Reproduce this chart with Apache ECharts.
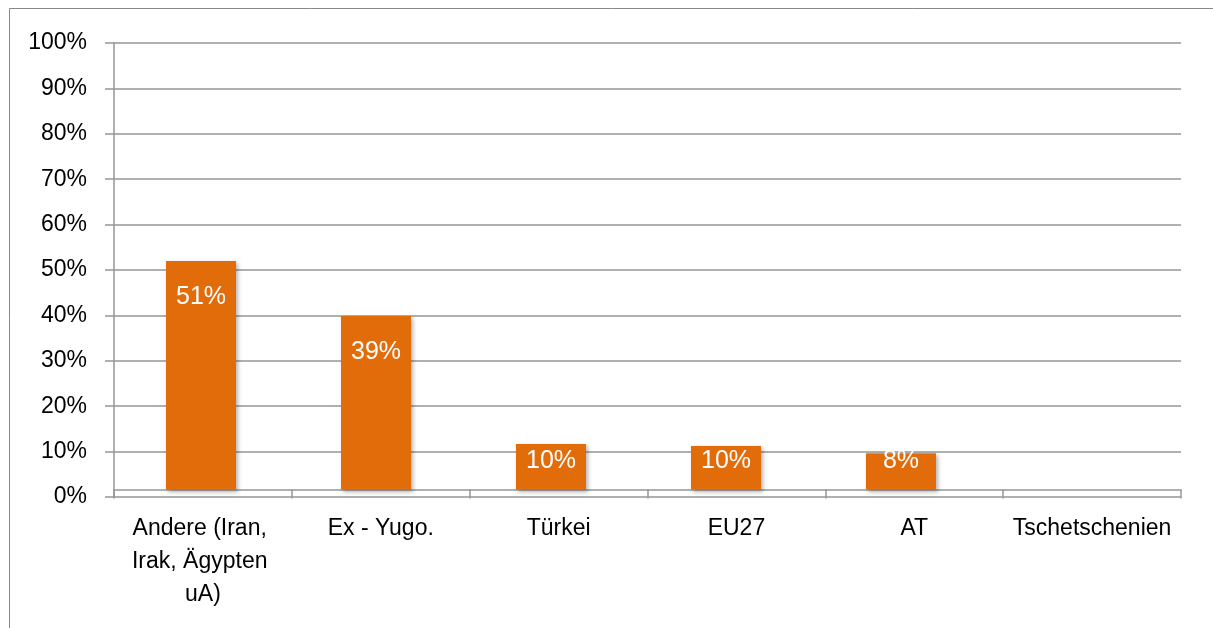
<!DOCTYPE html>
<html>
<head>
<meta charset="utf-8">
<script src="https://cdn.jsdelivr.net/npm/echarts@6/dist/echarts.min.js"></script>
<style>
html, body { margin: 0; padding: 0; background: #fff; }
#main { width: 1213px; height: 628px; }
</style>
</head>
<body>
<div id="main"></div>
<script>
var categories = ['Andere (Iran, Irak, Ägypten uA)', 'Ex - Yugo.', 'Türkei', 'EU27', 'AT', 'Tschetschenien'];
var values = [50.3, 38.2, 10.0, 9.6, 8.0, 0];
var valueLabels = ['51%', '39%', '10%', '10%', '8%', ''];
var yTicks = [0, 10, 20, 30, 40, 50, 60, 70, 80, 90, 100];

var font = "'Liberation Sans', Arial, sans-serif";
var gray = '#969696';

// the bars stand on the category axis line, which sits slightly above the 0% tick
var barAxis = { type: 'value', min: -1.65, max: 98.3, show: false, splitLine: { show: false } };

var myChart = echarts.init(document.getElementById('main'));
var option = {
	animation: false,
	backgroundColor: '#fff',
	graphic: [{
		type: 'rect',
		shape: { x: 9.5, y: 8.5, width: 1300, height: 700 },
		style: { fill: 'none', stroke: '#888', lineWidth: 1 },
		silent: true
	}],
	grid: [{
		left: 114,
		right: 32,
		top: 43,
		bottom: 131
	}, {
		left: 113.5,
		right: 49.5,
		top: 43,
		bottom: 131
	}],
	xAxis: [{
		type: 'category',
		gridIndex: 0,
		data: categories,
		axisLine: {
			onZero: true,
			onZeroAxisIndex: 1,
			lineStyle: { color: gray, width: 1.5 }
		},
		axisTick: {
			show: true,
			interval: 0,
			length: 9,
			lineStyle: { color: gray, width: 1.5 }
		},
		axisLabel: {
			interval: 0,
			margin: 15,
			color: '#000',
			fontSize: 23,
			fontFamily: font,
			lineHeight: 33,
			width: 172,
			overflow: 'break',
			align: 'center'
		}
	}, {
		type: 'category',
		gridIndex: 1,
		data: categories,
		show: false
	}],
	yAxis: [{
		type: 'value',
		gridIndex: 0,
		min: yTicks[0],
		max: yTicks[yTicks.length - 1],
		interval: 10,
		axisLine: { show: true, lineStyle: { color: gray, width: 1.5 } },
		axisTick: { show: true, length: 9, lineStyle: { color: gray, width: 1.5 } },
		splitLine: { show: true, lineStyle: { color: gray, width: 1.5 } },
		axisLabel: {
			margin: 27,
			color: '#000',
			fontSize: 23,
			fontFamily: font,
			formatter: '{value}%'
		}
	},
	Object.assign({ gridIndex: 0 }, barAxis),
	Object.assign({ gridIndex: 1 }, barAxis)],
	series: [{
		type: 'bar',
		xAxisIndex: 1,
		yAxisIndex: 2,
		barWidth: 70,
		itemStyle: {
			color: '#E36C0A',
			shadowColor: 'rgba(0,0,0,0.3)',
			shadowBlur: 4,
			shadowOffsetX: 2,
			shadowOffsetY: 2
		},
		label: {
			show: true,
			color: '#fff',
			fontSize: 25,
			fontFamily: font,
			formatter: function (p) { return valueLabels[p.dataIndex]; }
		},
		data: values.map(function (v) {
			return {
				value: v,
				label: v >= 20
					? { position: 'insideTop', distance: 24 }
					: { position: 'insideBottom', distance: 16 }
			};
		})
	}]
};
myChart.setOption(option);
</script>
</body>
</html>
